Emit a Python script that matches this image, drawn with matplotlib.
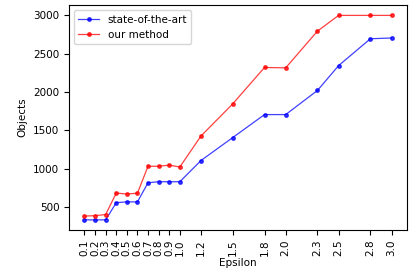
import matplotlib
matplotlib.use("Agg")
import matplotlib.pyplot as plt

epsilon = [0.1, 0.2, 0.3, 0.4, 0.5, 0.6, 0.7, 0.8, 0.9, 1.0,
           1.2, 1.5, 1.8, 2.0, 2.3, 2.5, 2.8, 3.0]
state_of_the_art = [330, 330, 330, 555, 565, 565, 815, 828, 828, 828,
                    1105, 1405, 1705, 1705, 2020, 2345, 2695, 2705]
our_method = [380, 385, 400, 680, 668, 678, 1030, 1030, 1045, 1020,
              1425, 1845, 2320, 2315, 2795, 3000, 3000, 3000]

plt.rcParams["font.size"] = 7.5

fig, ax = plt.subplots(figsize=(4.09, 2.72), dpi=100)
fig.subplots_adjust(left=0.169, right=0.995, top=0.981, bottom=0.154)

ax.plot(epsilon, state_of_the_art, color="blue", marker="o", markersize=2.5,
        linewidth=0.9, alpha=0.75, label="state-of-the-art")
ax.plot(epsilon, our_method, color="red", marker="o", markersize=2.5,
        linewidth=0.9, alpha=0.75, label="our method")

ax.set_xticks(epsilon)
ax.set_xticklabels([f"{e:.1f}" for e in epsilon], rotation=90)
ax.set_xlabel("Epsilon", labelpad=1)
ax.set_ylabel("Objects")
ax.legend(loc="upper left")

fig.savefig("out.png", dpi=100)
